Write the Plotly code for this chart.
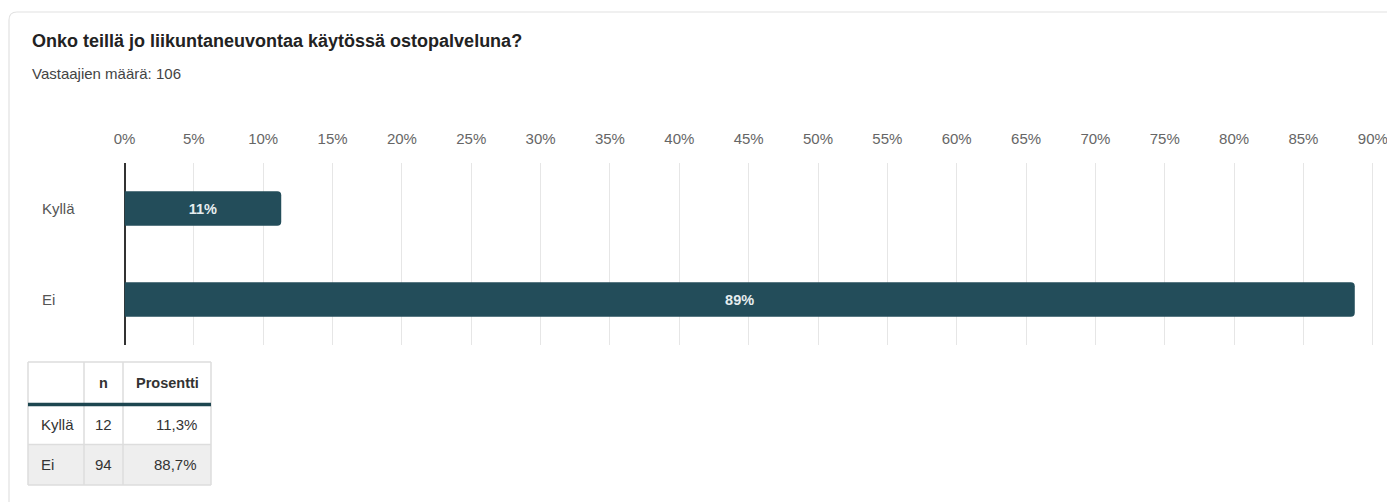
import plotly.graph_objects as go

W, H = 1387, 502

# Survey data
categories = ["Kyllä", "Ei"]
counts = [12, 94]
percents = [11.3, 88.7]
tick_vals = list(range(0, 95, 5))
tick_text = [f"{v}%" for v in tick_vals]

title_text = "Onko teillä jo liikuntaneuvontaa käytössä ostopalveluna?"
subtitle_text = "Vastaajien määrä: 106"
table_header = ["", "n", "Prosentti"]

BAR = "#234d5a"
FONT = "Liberation Sans, Arial, sans-serif"


def px(x):
    return x / W


def py(y):
    return 1 - y / H


x0_px, per_pct = 124.5, 13.87
x_max = 90.6
x_end_px = x0_px + x_max * per_pct

fig = go.Figure()

fig.add_trace(go.Bar(
    x=percents,
    y=categories,
    orientation="h",
    marker=dict(color=BAR, line=dict(width=0), cornerradius=4),
    width=0.38,
    text=[f"{p:.0f}%" for p in percents],
    texttemplate="%{text}",
    textposition="inside",
    insidetextanchor="middle",
    textfont=dict(family=FONT, size=14.5, color="#e6edef", weight="bold"),
    hoverinfo="skip",
    showlegend=False,
))

shapes = [
    # card outline
    dict(type="path", xref="paper", yref="paper",
         path=f"M {px(9)} {py(H + 10)} L {px(9)} {py(20)} Q {px(9)} {py(12)} {px(17)} {py(12)} L {px(W + 10)} {py(12)}",
         line=dict(color="#e2e2e2", width=1.2), layer="below"),
]
annotations = [
    dict(text=f"<b>{title_text}</b>", x=px(30), y=py(41), xref="paper", yref="paper",
         xanchor="left", yanchor="middle", showarrow=False,
         font=dict(family=FONT, size=18, color="#222222")),
    dict(text=subtitle_text, x=px(30), y=py(74), xref="paper", yref="paper",
         xanchor="left", yanchor="middle", showarrow=False,
         font=dict(family=FONT, size=15, color="#444444")),
]
for c in categories:
    annotations.append(dict(text=c, x=px(40), y=c, xref="paper", yref="y",
                            xanchor="left", yanchor="middle", showarrow=False,
                            font=dict(family=FONT, size=15, color="#555555")))

# Frequency table below the chart: column edges and row edges (pixels)
col_edges = [28, 84, 123, 211]
row_edges = [362, 404.5, 444.5, 485]
row_fill = ["#ffffff", "#eeeeee"]
grid = "#dddddd"

for i in range(len(categories)):
    shapes.append(dict(type="rect", xref="paper", yref="paper",
                       x0=px(col_edges[0]), x1=px(col_edges[-1]),
                       y0=py(row_edges[i + 1]), y1=py(row_edges[i + 2]),
                       fillcolor=row_fill[i % 2], line=dict(width=0), layer="below"))
for xe in col_edges:
    shapes.append(dict(type="line", xref="paper", yref="paper",
                       x0=px(xe), x1=px(xe), y0=py(row_edges[0]), y1=py(row_edges[-1]),
                       line=dict(color=grid, width=1.5)))
for j, ye in enumerate(row_edges):
    if j == 1:
        continue
    shapes.append(dict(type="line", xref="paper", yref="paper",
                       x0=px(col_edges[0]), x1=px(col_edges[-1]), y0=py(ye), y1=py(ye),
                       line=dict(color=grid, width=1.5)))
# thick rule under the header row
shapes.append(dict(type="line", xref="paper", yref="paper",
                   x0=px(col_edges[0]), x1=px(col_edges[-1]),
                   y0=py(row_edges[1]), y1=py(row_edges[1]),
                   line=dict(color="#1d4650", width=3.5)))


def cell_text(text, col, row, bold=False):
    left, right = col_edges[col], col_edges[col + 1]
    yc = (row_edges[row] + row_edges[row + 1]) / 2
    if col == 0:
        x, anchor = left + 11, "left"
    elif col == 1 or row == 0:
        x, anchor = (left + right) / 2, "center"
    else:
        x, anchor = right - 12, "right"
    annotations.append(dict(text=f"<b>{text}</b>" if bold else text,
                            x=px(x), y=py(yc), xref="paper", yref="paper",
                            xanchor=anchor, yanchor="middle", showarrow=False,
                            font=dict(family=FONT, size=14.5 if bold else 15, color="#333333")))


for c, h in enumerate(table_header):
    if h:
        cell_text(h, c, 0, bold=True)
for r, (cat, n, p) in enumerate(zip(categories, counts, percents), start=1):
    cell_text(cat, 0, r)
    cell_text(str(n), 1, r)
    cell_text(f"{p:.1f}%".replace(".", ","), 2, r)

fig.update_layout(
    width=W, height=H,
    margin=dict(l=0, r=0, t=0, b=0, autoexpand=False),
    paper_bgcolor="#ffffff",
    plot_bgcolor="#ffffff",
    xaxis=dict(
        domain=[px(x0_px), px(x_end_px)],
        range=[0, x_max],
        side="top",
        automargin=False,
        tickvals=tick_vals,
        ticktext=tick_text,
        ticklabeloverflow="allow",
        ticks="outside", ticklen=12, tickcolor="rgba(0,0,0,0)",
        tickfont=dict(family=FONT, size=15, color="#666666"),
        showgrid=True, gridcolor="#e6e6e6", gridwidth=1,
        zeroline=True, zerolinecolor="#333333", zerolinewidth=1.5,
        showline=False, fixedrange=True,
    ),
    yaxis=dict(
        domain=[py(345), py(163)],
        range=[1.5, -0.5],
        automargin=False,
        categoryorder="array", categoryarray=categories,
        showticklabels=False, showgrid=False, zeroline=False, showline=False,
        fixedrange=True,
    ),
    shapes=shapes,
    annotations=annotations,
)

fig.write_html("out.html", post_script="document.body.style.margin='0';")
